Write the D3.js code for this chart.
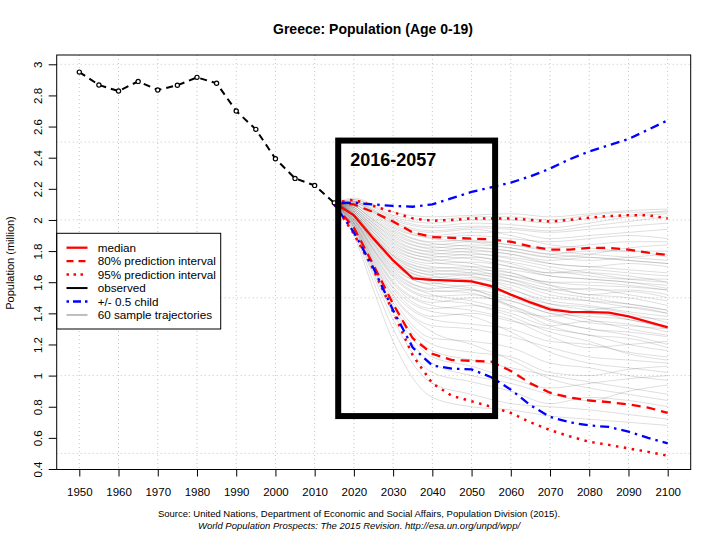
<!DOCTYPE html>
<html><head><meta charset="utf-8">
<script src="https://cdn.jsdelivr.net/npm/d3@7"></script>
<style>
body{margin:0;background:#fff}
svg{display:block}
text{font-family:"Liberation Sans",Arial,Helvetica,sans-serif}
</style>
</head><body>
<svg id="chart" width="720" height="540"></svg>
<script>
// ---------- DATA ----------
const titleText = "Greece: Population (Age 0-19)";
const yLabelText = "Population (million)";
const sourceLine1 = "Source: United Nations, Department of Economic and Social Affairs, Population Division (2015).";
const sourceLine2 = "World Population Prospects: The 2015 Revision. http://esa.un.org/unpd/wpp/";
const annotationText = "2016-2057";
const annotationYears = [2016, 2056];
const annotationValues = [2.51, 0.74];

const xTicks = [1950,1960,1970,1980,1990,2000,2010,2020,2030,2040,2050,2060,2070,2080,2090,2100];
const yTicks = [0.4,0.6,0.8,1.0,1.2,1.4,1.6,1.8,2.0,2.2,2.4,2.6,2.8,3.0];
const yGrid = [0.5,1.0,1.5,2.0,2.5,3.0];

const observedYears = [1950,1955,1960,1965,1970,1975,1980,1985,1990,1995,2000,2005,2010,2015];
const observed = [2.95,2.867,2.828,2.89,2.835,2.865,2.916,2.878,2.70,2.582,2.393,2.267,2.222,2.11];

const projYears = [2015,2020,2025,2030,2035,2040,2045,2050,2055,2060,2065,2070,2075,2080,2085,2090,2095,2100];
const median =         [2.11,2.03,1.88,1.74,1.625,1.615,1.61,1.605,1.575,1.52,1.47,1.425,1.41,1.408,1.405,1.38,1.345,1.31];
const pi80Upper =      [2.11,2.10,2.05,1.99,1.92,1.89,1.885,1.88,1.875,1.86,1.83,1.81,1.81,1.82,1.82,1.81,1.79,1.775];
const pi80Lower =      [2.10,1.95,1.71,1.46,1.24,1.14,1.10,1.095,1.09,1.03,0.95,0.89,0.86,0.84,0.83,0.815,0.795,0.76];
const pi95Upper =      [2.11,2.13,2.09,2.05,2.01,1.995,2.0,2.01,2.01,2.01,2.0,1.99,2.0,2.015,2.025,2.03,2.03,2.01];
const pi95Lower =      [2.10,1.91,1.68,1.41,1.13,0.95,0.87,0.835,0.80,0.76,0.70,0.65,0.61,0.575,0.555,0.532,0.51,0.485];
const halfChildUpper = [2.11,2.11,2.10,2.09,2.085,2.10,2.14,2.18,2.21,2.24,2.28,2.33,2.39,2.44,2.48,2.52,2.58,2.64];
const halfChildLower = [2.10,1.92,1.69,1.42,1.18,1.065,1.045,1.04,0.99,0.91,0.81,0.735,0.70,0.68,0.67,0.64,0.60,0.565];

const trajYears = [2015,2020,2025,2030,2040,2050,2060,2070,2080,2090,2100];
const trajectories = [
 [2.11,1.90,1.55,1.22,0.86,0.80,0.78,0.74,0.72,0.70,0.68],
 [2.11,1.92,1.60,1.30,0.95,0.88,0.82,0.80,0.78,0.75,0.72],
 [2.11,1.93,1.64,1.36,1.02,0.96,0.90,0.82,0.86,0.84,0.80],
 [2.11,1.94,1.66,1.40,1.08,1.00,0.95,0.88,0.84,0.90,0.94],
 [2.11,1.95,1.68,1.43,1.12,1.06,0.98,0.92,0.95,0.98,1.00],
 [2.11,1.95,1.69,1.45,1.16,1.10,1.05,1.00,0.96,0.92,0.88],
 [2.11,1.96,1.70,1.47,1.20,1.15,1.12,1.02,1.00,1.04,1.06],
 [2.11,1.96,1.71,1.49,1.24,1.22,1.18,1.08,1.05,1.00,0.97],
 [2.11,1.97,1.72,1.51,1.28,1.20,1.10,0.98,0.92,0.88,0.84],
 [2.11,1.97,1.73,1.52,1.32,1.30,1.25,1.18,1.12,1.10,1.08],
 [2.11,1.98,1.74,1.54,1.36,1.33,1.30,1.22,1.20,1.15,1.12],
 [2.11,1.98,1.75,1.56,1.38,1.40,1.35,1.30,1.26,1.20,1.16],
 [2.11,1.98,1.76,1.57,1.41,1.38,1.28,1.15,1.08,1.05,1.02],
 [2.11,1.99,1.77,1.59,1.43,1.45,1.40,1.32,1.35,1.33,1.28],
 [2.11,1.99,1.78,1.60,1.45,1.42,1.36,1.25,1.18,1.20,1.22],
 [2.11,2.00,1.79,1.61,1.47,1.50,1.48,1.40,1.38,1.36,1.30],
 [2.11,2.00,1.80,1.63,1.49,1.46,1.38,1.28,1.22,1.14,1.10],
 [2.11,2.00,1.81,1.64,1.51,1.52,1.45,1.36,1.30,1.28,1.25],
 [2.11,2.01,1.81,1.65,1.52,1.48,1.42,1.38,1.42,1.44,1.40],
 [2.11,2.01,1.82,1.66,1.54,1.55,1.50,1.42,1.36,1.30,1.26],
 [2.11,2.01,1.83,1.67,1.55,1.53,1.44,1.32,1.26,1.24,1.18],
 [2.11,2.02,1.84,1.68,1.56,1.58,1.52,1.46,1.44,1.40,1.34],
 [2.11,2.02,1.85,1.69,1.58,1.55,1.48,1.40,1.34,1.32,1.30],
 [2.11,2.02,1.85,1.70,1.59,1.62,1.58,1.50,1.48,1.46,1.42],
 [2.11,2.02,1.86,1.71,1.60,1.56,1.45,1.35,1.30,1.26,1.20],
 [2.11,2.03,1.87,1.72,1.61,1.63,1.60,1.55,1.56,1.52,1.48],
 [2.11,2.03,1.87,1.73,1.62,1.60,1.52,1.44,1.40,1.38,1.36],
 [2.11,2.03,1.88,1.74,1.63,1.65,1.62,1.56,1.52,1.50,1.45],
 [2.11,2.03,1.88,1.74,1.64,1.61,1.55,1.48,1.45,1.41,1.38],
 [2.11,2.04,1.89,1.75,1.65,1.66,1.64,1.60,1.58,1.57,1.55],
 [2.11,2.04,1.89,1.76,1.66,1.64,1.56,1.46,1.42,1.36,1.32],
 [2.11,2.04,1.90,1.77,1.67,1.68,1.66,1.58,1.52,1.54,1.50],
 [2.11,2.04,1.90,1.77,1.68,1.66,1.60,1.52,1.48,1.44,1.40],
 [2.11,2.05,1.91,1.78,1.69,1.70,1.68,1.64,1.62,1.60,1.58],
 [2.11,2.05,1.92,1.79,1.70,1.68,1.62,1.54,1.50,1.46,1.42],
 [2.11,2.05,1.92,1.80,1.72,1.73,1.70,1.66,1.66,1.64,1.60],
 [2.11,2.06,1.93,1.81,1.73,1.70,1.64,1.58,1.55,1.55,1.52],
 [2.11,2.06,1.94,1.82,1.74,1.76,1.73,1.68,1.64,1.62,1.62],
 [2.11,2.06,1.94,1.83,1.75,1.72,1.66,1.60,1.60,1.58,1.55],
 [2.11,2.07,1.95,1.84,1.76,1.78,1.76,1.72,1.70,1.72,1.70],
 [2.11,2.07,1.96,1.85,1.77,1.75,1.70,1.64,1.62,1.60,1.56],
 [2.11,2.07,1.96,1.86,1.78,1.80,1.78,1.74,1.76,1.74,1.72],
 [2.11,2.08,1.97,1.87,1.79,1.77,1.72,1.66,1.68,1.66,1.64],
 [2.11,2.08,1.98,1.88,1.80,1.82,1.80,1.76,1.74,1.76,1.78],
 [2.11,2.08,1.98,1.89,1.81,1.79,1.75,1.70,1.66,1.62,1.60],
 [2.11,2.09,1.99,1.90,1.82,1.84,1.82,1.78,1.80,1.80,1.76],
 [2.11,2.09,2.00,1.91,1.83,1.81,1.78,1.72,1.70,1.68,1.66],
 [2.11,2.09,2.00,1.92,1.84,1.86,1.84,1.80,1.78,1.76,1.74],
 [2.11,2.10,2.01,1.93,1.85,1.83,1.80,1.76,1.78,1.82,1.84],
 [2.11,2.10,2.02,1.94,1.86,1.87,1.84,1.82,1.84,1.86,1.86],
 [2.11,2.10,2.03,1.95,1.88,1.86,1.82,1.78,1.76,1.74,1.72],
 [2.11,2.11,2.04,1.96,1.89,1.90,1.88,1.86,1.88,1.90,1.88],
 [2.11,2.11,2.05,1.97,1.90,1.92,1.92,1.88,1.90,1.92,1.94],
 [2.11,2.11,2.05,1.98,1.92,1.94,1.90,1.84,1.82,1.80,1.80],
 [2.11,2.12,2.06,1.99,1.93,1.95,1.94,1.92,1.94,1.96,1.98],
 [2.11,2.12,2.06,2.00,1.95,1.96,1.95,1.93,1.96,1.99,2.02],
 [2.11,2.12,2.07,2.01,1.96,1.98,1.97,1.95,1.98,2.02,2.04],
 [2.11,2.13,2.08,2.02,1.98,2.00,2.00,1.98,2.01,2.03,2.06],
 [2.11,2.13,2.09,2.03,2.00,2.02,2.02,2.00,2.03,2.05,2.05],
 [2.11,2.14,2.10,2.05,2.02,2.03,2.04,2.02,2.04,2.06,2.07]
];

const legendLabels = ["median","80% prediction interval","95% prediction interval","observed","+/- 0.5 child","60 sample trajectories"];

// ---------- STYLES / LAYOUT ----------
const RED = "#ff0000", BLUE = "#0000ff";
const styleMedian = {stroke:RED, width:2.3, dash:null};
const style80 = {stroke:RED, width:2.3, dash:"9,6"};
const style95 = {stroke:RED, width:2.5, dash:"2.5,5.5"};
const styleObs = {stroke:"#000", width:2, dash:null};
const styleBlue = {stroke:BLUE, width:2.3, dash:"2.5,5,9,5"};
const styleGray = {stroke:"#bebebe", width:2, dash:null};
const legendStyles = [styleMedian, style80, style95, styleObs, styleBlue, styleGray];

const box = {left:56.7, right:690.7, top:55, bottom:469.5};
const svg = d3.select("#chart");
const x = d3.scaleLinear().domain([1950,2100]).range([79.3,667.7]);
const y = d3.scaleLinear().domain([0.4,3.0]).range([469,64.3]);

// grid
const grid = svg.append("g").attr("stroke","#c4c4c4").attr("stroke-width",1).attr("stroke-dasharray","1,3");
grid.selectAll("line.v").data(xTicks).join("line").attr("class","v")
  .attr("x1",d=>x(d)).attr("x2",d=>x(d)).attr("y1",box.top).attr("y2",box.bottom);
grid.selectAll("line.h").data(yGrid).join("line").attr("class","h")
  .attr("x1",box.left).attr("x2",box.right).attr("y1",d=>y(d)).attr("y2",d=>y(d));

// trajectories
const trajLine = d3.line().x((d,i)=>x(trajYears[i])).y(d=>y(d)).curve(d3.curveMonotoneX);
svg.append("g").selectAll("path").data(trajectories).join("path")
  .attr("d",trajLine).attr("fill","none").attr("stroke","#000")
  .attr("stroke-opacity",0.13).attr("stroke-width",1);

// projection lines
const projLine = d3.line().x((d,i)=>x(projYears[i])).y(d=>y(d));
function drawSeries(vals, st){
  const p = svg.append("path").attr("d",projLine(vals)).attr("fill","none")
    .attr("stroke",st.stroke).attr("stroke-width",st.width);
  if (st.dash) p.attr("stroke-dasharray",st.dash);
}
drawSeries(pi95Upper, style95);
drawSeries(pi95Lower, style95);
drawSeries(pi80Upper, style80);
drawSeries(pi80Lower, style80);
drawSeries(halfChildUpper, styleBlue);
drawSeries(halfChildLower, styleBlue);
drawSeries(median, styleMedian);

// observed
const obsLine = d3.line().x((d,i)=>x(observedYears[i])).y(d=>y(d));
svg.append("path").attr("d",obsLine(observed)).attr("fill","none")
  .attr("stroke","#000").attr("stroke-width",2).attr("stroke-dasharray","7,5");
svg.append("g").selectAll("circle").data(observed).join("circle")
  .attr("cx",(d,i)=>x(observedYears[i])).attr("cy",d=>y(d)).attr("r",2.1)
  .attr("fill","#fff").attr("stroke","#000").attr("stroke-width",1.2);

// axes
const xAxis = d3.axisBottom(x).tickValues(xTicks).tickSize(7).tickPadding(11).tickFormat(d3.format("d"));
svg.append("g").attr("transform",`translate(0,${box.bottom})`).call(xAxis)
  .call(g=>g.select(".domain").remove())
  .call(g=>g.selectAll("text").attr("font-size",11.5).attr("fill","#000")
        .style("font-family","'Liberation Sans',Arial,sans-serif"))
  .call(g=>g.selectAll("line").attr("stroke","#000"));

const yAxis = d3.axisLeft(y).tickValues(yTicks).tickSize(8).tickFormat(d=>String(+d.toFixed(1)));
svg.append("g").attr("transform",`translate(${box.left},0)`).call(yAxis)
  .call(g=>g.select(".domain").remove())
  .call(g=>g.selectAll("line").attr("stroke","#000"))
  .call(g=>g.selectAll("text").attr("x",null).attr("dy",null)
        .attr("transform","translate(-15,0) rotate(-90)").attr("text-anchor","middle")
        .attr("font-size",11.5).attr("fill","#000")
        .style("font-family","'Liberation Sans',Arial,sans-serif"));

// legend
const lg = svg.append("g");
lg.append("rect").attr("x",box.left).attr("y",233.3).attr("width",164).attr("height",95.7)
  .attr("fill","#fff").attr("stroke","#000").attr("stroke-width",1);
legendLabels.forEach((lab,i)=>{
  const cy = 247.7 + i*13.45;
  const st = legendStyles[i];
  const l = lg.append("line").attr("x1",66.5).attr("x2",87.5).attr("y1",cy).attr("y2",cy)
    .attr("stroke",st.stroke).attr("stroke-width",st.width);
  if (st.dash) l.attr("stroke-dasharray", i===4 ? "2.5,4,8,4" : (i===1 ? "7,5" : "2.5,4.5"));
  lg.append("text").attr("x",97.7).attr("y",cy+4.2).attr("font-size",11.7).attr("fill","#000").text(lab);
});

// plot box
svg.append("rect").attr("x",box.left).attr("y",box.top)
  .attr("width",box.right-box.left).attr("height",box.bottom-box.top)
  .attr("fill","none").attr("stroke","#000").attr("stroke-width",1);

// annotation
svg.append("rect").attr("x",x(annotationYears[0])).attr("y",y(annotationValues[0]))
  .attr("width",x(annotationYears[1])-x(annotationYears[0]))
  .attr("height",y(annotationValues[1])-y(annotationValues[0]))
  .attr("fill","none").attr("stroke","#000").attr("stroke-width",6);
svg.append("text").attr("x",x(annotationYears[0])+12).attr("y",166)
  .attr("font-size",18).attr("font-weight","bold").attr("fill","#000").text(annotationText);

// titles
svg.append("text").attr("x",373).attr("y",33.5).attr("text-anchor","middle")
  .attr("font-size",14).attr("font-weight","bold").attr("fill","#000").text(titleText);
svg.append("text").attr("transform","translate(13.5,263) rotate(-90)").attr("text-anchor","middle")
  .attr("font-size",11).attr("fill","#000").text(yLabelText);
svg.append("text").attr("x",359).attr("y",516.5).attr("text-anchor","middle")
  .attr("font-size",9.5).attr("fill","#000").text(sourceLine1);
svg.append("text").attr("x",359).attr("y",528.5).attr("text-anchor","middle")
  .attr("font-size",9.5).attr("font-style","italic").attr("fill","#000").text(sourceLine2);
</script>
</body></html>
